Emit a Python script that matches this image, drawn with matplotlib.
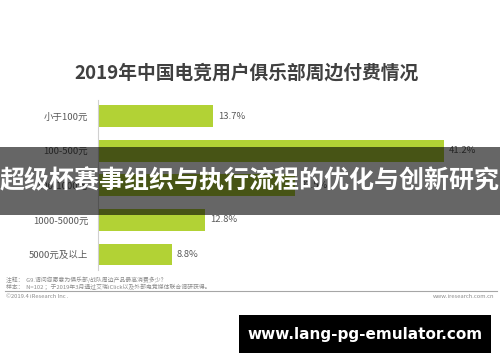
import matplotlib
matplotlib.use('Agg')
import matplotlib.pyplot as plt
from matplotlib.patches import Rectangle

plt.rcParams['font.family'] = ['Noto Sans CJK SC', 'DejaVu Sans']

title = '2019年中国电竞用户俱乐部周边付费情况'
categories = ['小于100元', '100-500元', '500-1000元', '1000-5000元', '5000元及以上']
shares = [13.7, 41.2, 23.5, 12.8, 8.8]
banner_text = '超级杯赛事组织与执行流程的优化与创新研究'
note_lines = ['注释：  G9.请问您愿意为俱乐部/战队周边产品最高消费多少？',
              '样本：  N=102 ；于2019年3月通过艾瑞iClick以及外部电竞媒体联合调研获得。']
footer_left = '©2019.4 iResearch Inc .'
footer_right = 'www.iresearch.com.cn'
watermark = 'www.lang-pg-emulator.com'

W, H = 500, 362
fig = plt.figure(figsize=(5, 3.62), dpi=100)
fig.patch.set_facecolor('white')

def fx(px):
    return px / W

def fy(py):
    return 1 - py / H

# bar axes
ax = fig.add_axes([fx(98), fy(270), fx(470) - fx(98), fy(100) - fy(270)])
ypos = list(range(len(categories)))
ax.barh(ypos, shares, height=0.63, color='#b2d235')
ax.set_xlim(0, 44.3)
ax.set_ylim(4.45, -0.47)
ax.set_yticks(ypos)
ax.set_yticklabels(categories, fontsize=6.8, color='#595959')
ax.tick_params(axis='y', length=0, pad=7)
ax.set_xticks([])
for s in ['top', 'right', 'bottom']:
    ax.spines[s].set_visible(False)
ax.spines['left'].set_color('#d0d0d0')
ax.spines['left'].set_linewidth(0.8)
for y, v in zip(ypos, shares):
    ax.text(v + 0.6, y, f'{v}%', va='center', ha='left', fontsize=6.8, color='#595959')

fig.text(fx(247), fy(73), title, ha='center', va='center', fontsize=13.5,
         fontweight='bold', color='#404040')

# notes and footer
fig.text(fx(6), fy(280), note_lines[0], ha='left', va='center', fontsize=4.2, color='#8c8c8c')
fig.text(fx(6), fy(286.5), note_lines[1], ha='left', va='center', fontsize=4.2, color='#8c8c8c')
fig.add_artist(plt.Line2D([fx(5), fx(497)], [fy(291), fy(291)], color='#a6a6a6', lw=0.8))
fig.text(fx(6), fy(297), footer_left, ha='left', va='center', fontsize=4.2, color='#8c8c8c')
fig.text(fx(494), fy(297), footer_right, ha='right', va='center', fontsize=4.2, color='#8c8c8c')

# overlay banner
fig.add_artist(Rectangle((0, fy(215)), 1, fy(147) - fy(215), transform=fig.transFigure,
                         facecolor='black', alpha=0.6, edgecolor='none'))
fig.text(0.5, fy(181), banner_text, ha='center', va='center', fontsize=18,
         fontweight='bold', color='white')

# watermark box
fig.add_artist(Rectangle((fx(239), fy(353)), fx(491) - fx(239), fy(315) - fy(353),
                         transform=fig.transFigure, facecolor='black', edgecolor='none'))
fig.text(fx(365), fy(334), watermark, ha='center', va='center', fontsize=11,
         fontweight='bold', color='white', family=['DejaVu Sans'])

fig.savefig('out.png', dpi=100)
